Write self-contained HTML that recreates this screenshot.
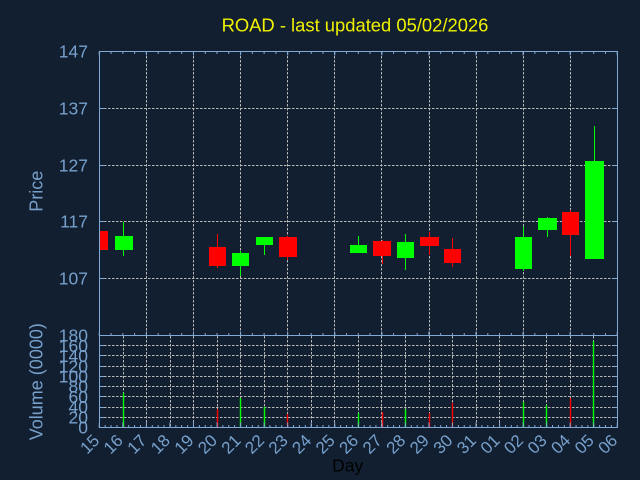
<!DOCTYPE html>
<html><head><meta charset="utf-8"><style>
html,body{margin:0;padding:0;background:#111f30;}
svg{display:block;}
text{font-family:"Liberation Sans",sans-serif;}
</style></head><body>
<svg width="640" height="480" viewBox="0 0 640 480" xmlns="http://www.w3.org/2000/svg">
<rect width="640" height="480" fill="#111f30"/>
<defs><clipPath id="pc"><rect x="99.5" y="51.5" width="518" height="284"/></clipPath></defs>

<!-- title -->
<text x="355" y="31.5" font-size="18.4" fill="#f0f000" text-anchor="middle">ROAD - last updated 05/02/2026</text>

<!-- price grid -->
<g stroke="#b8b8b8" stroke-width="1" stroke-dasharray="2.5,1.5" fill="none" shape-rendering="crispEdges">
<line x1="100" y1="108.5" x2="617" y2="108.5"/>
<line x1="100" y1="165.5" x2="617" y2="165.5"/>
<line x1="100" y1="221.5" x2="617" y2="221.5"/>
<line x1="100" y1="278.5" x2="617" y2="278.5"/>
<line x1="146.5" y1="52" x2="146.5" y2="335"/>
<line x1="193.5" y1="52" x2="193.5" y2="335"/>
<line x1="240.5" y1="52" x2="240.5" y2="335"/>
<line x1="287.5" y1="52" x2="287.5" y2="335"/>
<line x1="334.5" y1="52" x2="334.5" y2="335"/>
<line x1="381.5" y1="52" x2="381.5" y2="335"/>
<line x1="429.5" y1="52" x2="429.5" y2="335"/>
<line x1="476.5" y1="52" x2="476.5" y2="335"/>
<line x1="523.5" y1="52" x2="523.5" y2="335"/>
<line x1="570.5" y1="52" x2="570.5" y2="335"/>
</g>

<!-- volume grid -->
<g stroke="#b8b8b8" stroke-width="1" stroke-dasharray="2.5,1.5" fill="none" shape-rendering="crispEdges">
<line x1="100" y1="345.5" x2="617" y2="345.5"/>
<line x1="100" y1="355.5" x2="617" y2="355.5"/>
<line x1="100" y1="366.5" x2="617" y2="366.5"/>
<line x1="100" y1="376.5" x2="617" y2="376.5"/>
<line x1="100" y1="386.5" x2="617" y2="386.5"/>
<line x1="100" y1="396.5" x2="617" y2="396.5"/>
<line x1="100" y1="407.5" x2="617" y2="407.5"/>
<line x1="100" y1="417.5" x2="617" y2="417.5"/>
<line x1="123.5" y1="336" x2="123.5" y2="427"/>
<line x1="146.5" y1="336" x2="146.5" y2="427"/>
<line x1="170.5" y1="336" x2="170.5" y2="427"/>
<line x1="193.5" y1="336" x2="193.5" y2="427"/>
<line x1="217.5" y1="336" x2="217.5" y2="427"/>
<line x1="240.5" y1="336" x2="240.5" y2="427"/>
<line x1="264.5" y1="336" x2="264.5" y2="427"/>
<line x1="287.5" y1="336" x2="287.5" y2="427"/>
<line x1="311.5" y1="336" x2="311.5" y2="427"/>
<line x1="334.5" y1="336" x2="334.5" y2="427"/>
<line x1="358.5" y1="336" x2="358.5" y2="427"/>
<line x1="381.5" y1="336" x2="381.5" y2="427"/>
<line x1="405.5" y1="336" x2="405.5" y2="427"/>
<line x1="429.5" y1="336" x2="429.5" y2="427"/>
<line x1="452.5" y1="336" x2="452.5" y2="427"/>
<line x1="476.5" y1="336" x2="476.5" y2="427"/>
<line x1="499.5" y1="336" x2="499.5" y2="427"/>
<line x1="523.5" y1="336" x2="523.5" y2="427"/>
<line x1="546.5" y1="336" x2="546.5" y2="427"/>
<line x1="570.5" y1="336" x2="570.5" y2="427"/>
<line x1="593.5" y1="336" x2="593.5" y2="427"/>
</g>

<!-- candles -->
<g clip-path="url(#pc)" shape-rendering="crispEdges">
<!-- 15 red -->
<rect x="91" y="231" width="17" height="19" fill="#ff0000"/>
<!-- 16 green -->
<rect x="123" y="222" width="1" height="34" fill="#00ff00"/>
<rect x="115" y="236" width="18" height="14" fill="#00ff00"/>
<!-- 20 red -->
<rect x="217" y="234" width="1" height="34" fill="#ff0000"/>
<rect x="209" y="247" width="17" height="19" fill="#ff0000"/>
<!-- 21 green -->
<rect x="240" y="251" width="1" height="25" fill="#00ff00"/>
<rect x="232" y="253" width="17" height="13" fill="#00ff00"/>
<!-- 22 green -->
<rect x="264" y="237" width="1" height="18" fill="#00ff00"/>
<rect x="256" y="237" width="17" height="8" fill="#00ff00"/>
<!-- 23 red -->
<rect x="287" y="236" width="1" height="24" fill="#ff0000"/>
<rect x="279" y="237" width="18" height="20" fill="#ff0000"/>
<!-- 26 green -->
<rect x="358" y="236" width="1" height="17" fill="#00ff00"/>
<rect x="350" y="245" width="17" height="8" fill="#00ff00"/>
<!-- 27 red -->
<rect x="382" y="240" width="1" height="24" fill="#ff0000"/>
<rect x="373" y="241" width="18" height="15" fill="#ff0000"/>
<!-- 28 green -->
<rect x="405" y="234" width="1" height="36" fill="#00ff00"/>
<rect x="397" y="242" width="17" height="16" fill="#00ff00"/>
<!-- 29 red -->
<rect x="429" y="232" width="1" height="23" fill="#ff0000"/>
<rect x="420" y="237" width="19" height="9" fill="#ff0000"/>
<!-- 30 red -->
<rect x="452" y="238" width="1" height="29" fill="#ff0000"/>
<rect x="444" y="249" width="17" height="14" fill="#ff0000"/>
<!-- 02 green -->
<rect x="523" y="226" width="1" height="45" fill="#00ff00"/>
<rect x="515" y="237" width="17" height="32" fill="#00ff00"/>
<!-- 03 green -->
<rect x="547" y="217" width="1" height="20" fill="#00ff00"/>
<rect x="538" y="218" width="19" height="12" fill="#00ff00"/>
<!-- 04 red -->
<rect x="570" y="210" width="1" height="46" fill="#ff0000"/>
<rect x="562" y="212" width="17" height="23" fill="#ff0000"/>
<!-- 05 green -->
<rect x="594" y="126" width="1" height="133" fill="#00ff00"/>
<rect x="585" y="161" width="19" height="98" fill="#00ff00"/>
</g>

<!-- volume bars -->
<g>
<rect x="122.8" y="393" width="1.4" height="34" fill="#00ff00"/>
<rect x="216.8" y="409" width="1.4" height="18" fill="#ff0000"/>
<rect x="239.8" y="398" width="1.4" height="29" fill="#00ff00"/>
<rect x="263.8" y="407" width="1.4" height="20" fill="#00ff00"/>
<rect x="286.8" y="414" width="1.4" height="13" fill="#ff0000"/>
<rect x="357.8" y="413" width="1.4" height="14" fill="#00ff00"/>
<rect x="381.8" y="412" width="1.4" height="15" fill="#ff0000"/>
<rect x="404.8" y="409" width="1.4" height="18" fill="#00ff00"/>
<rect x="428.8" y="413" width="1.4" height="14" fill="#ff0000"/>
<rect x="451.8" y="403" width="1.4" height="24" fill="#ff0000"/>
<rect x="522.8" y="402" width="1.4" height="25" fill="#00ff00"/>
<rect x="545.8" y="405" width="1.4" height="22" fill="#00ff00"/>
<rect x="569.8" y="398" width="1.4" height="29" fill="#ff0000"/>
<rect x="592.8" y="341" width="1.4" height="86" fill="#00ff00"/>
</g>

<!-- axes -->
<g stroke="#82a8d4" fill="none">
<rect x="99.5" y="51.5" width="518" height="376" stroke-width="1"/>
<line x1="99.5" y1="335.5" x2="617.5" y2="335.5" stroke-width="1"/>
<!-- price top ticks -->
<line x1="98.8" y1="52.75" x2="618" y2="52.75" stroke-width="2.5" stroke-dasharray="1 10.7725"/>
<line x1="98.8" y1="53.5" x2="618" y2="53.5" stroke-width="4" stroke-dasharray="1 46.09"/>
<!-- price bottom ticks -->
<line x1="98.8" y1="334.25" x2="618" y2="334.25" stroke-width="2.5" stroke-dasharray="1 10.7725"/>
<line x1="98.8" y1="333.5" x2="618" y2="333.5" stroke-width="4" stroke-dasharray="1 46.09"/>
<!-- volume bottom ticks -->
<line x1="98.8" y1="426.25" x2="618" y2="426.25" stroke-width="2.5" stroke-dasharray="1 4.886"/>
<line x1="98.8" y1="425" x2="618" y2="425" stroke-width="5" stroke-dasharray="1 22.545"/>
<!-- left/right ticks price -->
<path d="M100 108.5h5M100 165.5h5M100 221.5h5M100 278.5h5M617 108.5h-5M617 165.5h-5M617 221.5h-5M617 278.5h-5" stroke-width="1"/>
<!-- left/right ticks volume -->
<path d="M100 345.5h4M100 355.5h4M100 366.5h4M100 376.5h4M100 386.5h4M100 396.5h4M100 407.5h4M100 417.5h4M617 345.5h-4M617 355.5h-4M617 366.5h-4M617 376.5h-4M617 386.5h-4M617 396.5h-4M617 407.5h-4M617 417.5h-4" stroke-width="1"/>
</g>

<!-- y labels price -->
<g font-size="17.5" fill="#77a0cc" text-anchor="end">
<text x="88" y="57.6">147</text>
<text x="88" y="114.6">137</text>
<text x="88" y="171.6">127</text>
<text x="88" y="227.6">117</text>
<text x="88" y="284.6">107</text>
</g>
<!-- y labels volume -->
<g font-size="17.5" fill="#77a0cc" text-anchor="end">
<text x="88" y="341.6">180</text>
<text x="88" y="351.8">160</text>
<text x="88" y="362">140</text>
<text x="88" y="372.3">120</text>
<text x="88" y="382.5">100</text>
<text x="88" y="392.7">80</text>
<text x="88" y="402.9">60</text>
<text x="88" y="413.2">40</text>
<text x="88" y="423.4">20</text>
<text x="88" y="433.6">0</text>
</g>

<text transform="translate(42.5,191.3) rotate(-90)" font-size="18" fill="#77a0cc" text-anchor="middle">Price</text>
<text transform="translate(42.5,381.7) rotate(-90)" font-size="18" fill="#77a0cc" text-anchor="middle">Volume (0000)</text>
<text x="347.7" y="471.5" font-size="17.5" fill="#000000" text-anchor="middle">Day</text>

<!-- x labels -->
<g font-size="17" fill="#77a0cc" text-anchor="end">
<text transform="translate(100.5,441.5) rotate(-45)">15</text>
<text transform="translate(124.0,441.5) rotate(-45)">16</text>
<text transform="translate(147.6,441.5) rotate(-45)">17</text>
<text transform="translate(171.1,441.5) rotate(-45)">18</text>
<text transform="translate(194.7,441.5) rotate(-45)">19</text>
<text transform="translate(218.2,441.5) rotate(-45)">20</text>
<text transform="translate(241.8,441.5) rotate(-45)">21</text>
<text transform="translate(265.3,441.5) rotate(-45)">22</text>
<text transform="translate(288.9,441.5) rotate(-45)">23</text>
<text transform="translate(312.4,441.5) rotate(-45)">24</text>
<text transform="translate(336.0,441.5) rotate(-45)">25</text>
<text transform="translate(359.5,441.5) rotate(-45)">26</text>
<text transform="translate(383.0,441.5) rotate(-45)">27</text>
<text transform="translate(406.6,441.5) rotate(-45)">28</text>
<text transform="translate(430.1,441.5) rotate(-45)">29</text>
<text transform="translate(453.7,441.5) rotate(-45)">30</text>
<text transform="translate(477.2,441.5) rotate(-45)">31</text>
<text transform="translate(500.8,441.5) rotate(-45)">01</text>
<text transform="translate(524.3,441.5) rotate(-45)">02</text>
<text transform="translate(547.9,441.5) rotate(-45)">03</text>
<text transform="translate(571.4,441.5) rotate(-45)">04</text>
<text transform="translate(595.0,441.5) rotate(-45)">05</text>
<text transform="translate(618.5,441.5) rotate(-45)">06</text>
</g>
</svg>
</body></html>
